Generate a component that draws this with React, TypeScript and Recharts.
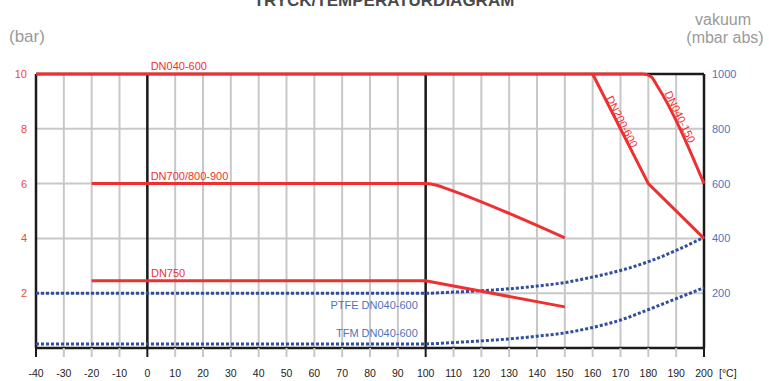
import React from "react";
import {
  LineChart,
  Line,
  XAxis,
  YAxis,
  CartesianGrid,
  ReferenceLine,
  ReferenceDot,
} from "recharts";

// temperature ticks (°C)
const TEMP_TICKS = [
  -40, -30, -20, -10, 0, 10, 20, 30, 40, 50, 60, 70, 80, 90, 100, 110, 120,
  130, 140, 150, 160, 170, 180, 190, 200,
];
const MAJOR_TEMPS = [-40, 0, 100, 200];
const BAR_TICKS = [0, 2, 4, 6, 8, 10];
const VAC_TICKS = [0, 200, 400, 600, 800, 1000];

// pressure curves (bar)
const dn040_600 = [
  { t: -40, p: 10 },
  { t: 178, p: 10 },
  { t: 181, p: 9.9 },
  { t: 183, p: 9.6 },
  { t: 200, p: 6 },
];
const dn200_600 = [
  { t: 160, p: 10 },
  { t: 180, p: 6 },
  { t: 200, p: 4 },
];
const dn700_900 = [
  { t: -20, p: 6 },
  { t: 100, p: 6 },
  { t: 104, p: 5.94 },
  { t: 108, p: 5.8 },
  { t: 150, p: 4.02 },
];
const dn750 = [
  { t: -20, p: 2.45 },
  { t: 100, p: 2.45 },
  { t: 150, p: 1.5 },
];

// vacuum curves (mbar abs)
const ptfe = [
  { t: -40, v: 200 },
  { t: 100, v: 200 },
  { t: 110, v: 204 },
  { t: 120, v: 209 },
  { t: 130, v: 216 },
  { t: 140, v: 226 },
  { t: 150, v: 239 },
  { t: 160, v: 259 },
  { t: 170, v: 283 },
  { t: 180, v: 315 },
  { t: 190, v: 356 },
  { t: 200, v: 404 },
];
const tfm = [
  { t: -40, v: 15 },
  { t: 100, v: 15 },
  { t: 110, v: 20 },
  { t: 120, v: 26 },
  { t: 130, v: 33 },
  { t: 140, v: 43 },
  { t: 150, v: 55 },
  { t: 160, v: 75 },
  { t: 170, v: 102 },
  { t: 180, v: 140 },
  { t: 190, v: 180 },
  { t: 200, v: 220 },
];

const RED = "#ef3030";
const BLUE = "#2f4e9f";
const BLUE_TEXT = "#4f74bd";
const BLACK = "#1b1b1b";
const GRID = "#c8c8c8";
const FONT = "'Liberation Sans', Arial, sans-serif";
const NARROW = "'Liberation Sans Narrow', 'Liberation Sans', Arial";

const TempTick = (props: any) => {
  const { x, y, payload } = props;
  const major = MAJOR_TEMPS.includes(payload.value);
  return (
    <g>
      <line
        x1={x}
        x2={x}
        y1={y}
        y2={y + 9}
        stroke={major ? BLACK : GRID}
        strokeWidth={2}
      />
      <text x={x} y={y + 29} textAnchor="middle" fontSize={10.5} fontFamily={NARROW} fill="#222">
        {payload.value}
      </text>
    </g>
  );
};

const BarTick = (props: any) => {
  const { x, y, payload } = props;
  if (payload.value === 0) return <g />;
  return (
    <text x={x} y={y + 4} textAnchor="end" fontSize={11} fontFamily={FONT} fill="#f04848">
      {payload.value}
    </text>
  );
};

const VacTick = (props: any) => {
  const { x, y, payload } = props;
  if (payload.value === 0) return <g />;
  return (
    <text x={x} y={y + 4} textAnchor="start" fontSize={11} fontFamily={FONT} fill={BLUE_TEXT}>
      {payload.value}
    </text>
  );
};

const labelShape =
  (text: string, color: string, anchor: "start" | "end" | "middle", angle = 0) =>
  (props: any) =>
    (
      <text
        x={props.cx}
        y={props.cy}
        dy="0.35em"
        textAnchor={anchor}
        fontSize={11}
        fontFamily={FONT}
        fill={color}
        transform={angle ? `rotate(${angle} ${props.cx} ${props.cy})` : undefined}
      >
        {text}
      </text>
    );

export default function App() {
  return (
    <div style={{ position: "absolute", left: 0, top: 0, width: 769, height: 381 }}>
      <LineChart
        width={769}
        height={381}
        margin={{ top: 74, right: 0, bottom: 0, left: 0 }}
      >
        <CartesianGrid stroke={GRID} strokeWidth={2} />
        <XAxis
          type="number"
          dataKey="t"
          domain={[-40, 200]}
          ticks={TEMP_TICKS}
          interval={0}
          height={33}
          tickSize={0}
          tickMargin={0}
          axisLine={false}
          tickLine={false}
          tick={<TempTick />}
          allowDuplicatedCategory={false}
        />
        <YAxis
          type="number"
          domain={[0, 10]}
          ticks={BAR_TICKS}
          width={36}
          tickSize={0}
          tickMargin={9}
          axisLine={false}
          tickLine={false}
          tick={<BarTick />}
        />
        <YAxis
          yAxisId="vac"
          orientation="right"
          type="number"
          domain={[0, 1000]}
          ticks={VAC_TICKS}
          width={65}
          tickSize={0}
          tickMargin={8}
          axisLine={false}
          tickLine={false}
          tick={<VacTick />}
        />

        {MAJOR_TEMPS.map((t) => (
          <ReferenceLine key={`vx${t}`} x={t} stroke={BLACK} strokeWidth={2.5} />
        ))}
        <ReferenceLine y={0} stroke={BLACK} strokeWidth={2.5} />
        <ReferenceLine y={10} stroke={BLACK} strokeWidth={2.5} />

        <Line data={ptfe} yAxisId="vac" dataKey="v" type="monotone" stroke={BLUE}
          strokeWidth={3} strokeDasharray="3 2" dot={false} activeDot={false} isAnimationActive={false} />
        <Line data={tfm} yAxisId="vac" dataKey="v" type="monotone" stroke={BLUE}
          strokeWidth={3} strokeDasharray="3 2" dot={false} activeDot={false} isAnimationActive={false} />
        <Line data={dn040_600} dataKey="p" type="monotone" stroke={RED}
          strokeWidth={3} dot={false} activeDot={false} isAnimationActive={false} />
        <Line data={dn200_600} dataKey="p" type="linear" stroke={RED}
          strokeWidth={3} dot={false} activeDot={false} isAnimationActive={false} />
        <Line data={dn700_900} dataKey="p" type="monotone" stroke={RED}
          strokeWidth={3} dot={false} activeDot={false} isAnimationActive={false} />
        <Line data={dn750} dataKey="p" type="linear" stroke={RED}
          strokeWidth={3} dot={false} activeDot={false} isAnimationActive={false} />

        <ReferenceDot x={1.2} y={10.29} ifOverflow="visible" shape={labelShape("DN040-600", RED, "start")} />
        <ReferenceDot x={1.2} y={6.28} ifOverflow="visible" shape={labelShape("DN700/800-900", RED, "start")} />
        <ReferenceDot x={1.3} y={2.75} ifOverflow="visible" shape={labelShape("DN750", RED, "start")} />
        <ReferenceDot x={97.2} y={1.57} ifOverflow="visible" shape={labelShape("PTFE DN040-600", BLUE_TEXT, "end")} />
        <ReferenceDot x={97.2} y={0.54} ifOverflow="visible" shape={labelShape("TFM DN040-600", BLUE_TEXT, "end")} />
        <ReferenceDot x={170.5} y={8.26} ifOverflow="visible" shape={labelShape("DN200-600", RED, "middle", 63)} />
        <ReferenceDot x={191.4} y={8.44} ifOverflow="visible" shape={labelShape("DN040-150", RED, "middle", 64)} />
      </LineChart>

      <svg
        width={769}
        height={381}
        style={{ position: "absolute", left: 0, top: 0, pointerEvents: "none" }}
      >
        <text x={384} y={5.5} textAnchor="middle" fontSize={17} fontWeight="bold" fontFamily={FONT} fill="#4a4a4a">
          TRYCK/TEMPERATURDIAGRAM
        </text>
        <text x={9} y={41.5} fontSize={17} fontFamily={FONT} fill="#9a9a9a">
          (bar)
        </text>
        <text x={723} y={24.5} textAnchor="middle" fontSize={16} fontFamily={FONT} fill="#9a9a9a">
          vakuum
        </text>
        <text x={725} y={43} textAnchor="middle" fontSize={16} fontFamily={FONT} fill="#9a9a9a">
          (mbar abs)
        </text>
        <text x={719} y={377} fontSize={10.5} fontFamily={NARROW} fill="#222">
          [°C]
        </text>
      </svg>
    </div>
  );
}
